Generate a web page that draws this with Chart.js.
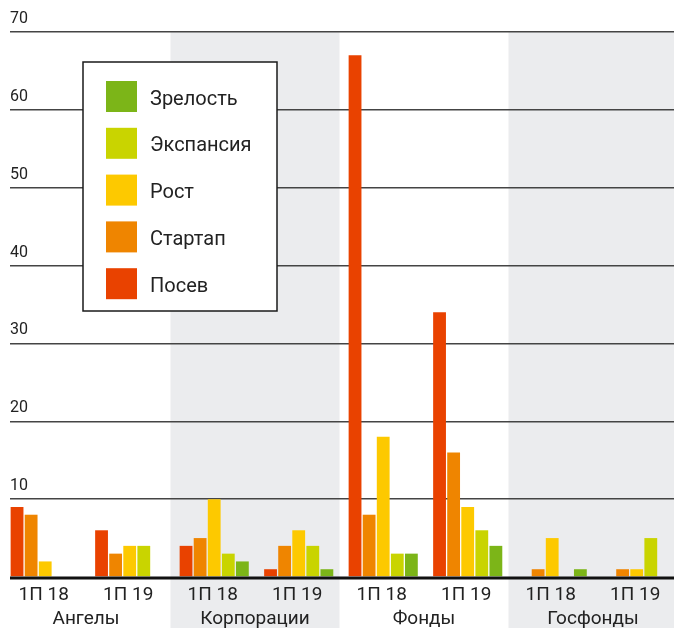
<!DOCTYPE html>
<html lang="ru">
<head>
<meta charset="utf-8">
<title>Сделки по стадиям</title>
<script src="https://cdn.jsdelivr.net/npm/chart.js@4"></script>
<style>
  html, body { margin: 0; padding: 0; background: #fff; overflow: hidden; }
  #wrap { width: 674px; height: 628px; overflow: hidden; }
  canvas { display: block; }
</style>
</head>
<body>
<div id="wrap"><canvas id="chart" width="690" height="628"></canvas></div>
<script>
// Периоды и группы инвесторов
const periods = ['1П 18', '1П 19', '1П 18', '1П 19', '1П 18', '1П 19', '1П 18', '1П 19'];
const groups = ['Ангелы', 'Корпорации', 'Фонды', 'Госфонды'];

// Стадии и их цвета
const stages = ['Посев', 'Стартап', 'Рост', 'Экспансия', 'Зрелость'];
const stageColors = ['#e94200', '#ef8500', '#fdc900', '#c9d400', '#7cb518'];

// Значения по стадиям (в порядке periods)
const posev     = [9, 6, 4, 1, 67, 34, 0, 0];
const startap   = [8, 3, 5, 4, 8, 16, 1, 1];
const rost      = [2, 4, 10, 6, 18, 9, 5, 1];
const expansiya = [0, 4, 3, 4, 3, 6, 0, 5];
const zrelost   = [0, 0, 2, 1, 3, 4, 1, 0];

const yMax = 70;
const yStep = 10;

const FONT = 'Roboto';
const labelShift = -8.5; // подписи центрируются под столбиками, а не по центру категории

const seriesValues = [posev, startap, rost, expansiya, zrelost];

const datasets = stages.map((name, i) => ({
    label: name,
    data: seriesValues[i],
    backgroundColor: stageColors[i],
    borderWidth: 0
}));
// пустой ряд — оставляет промежуток справа от каждой пятёрки столбиков
datasets.push({ label: '', data: periods.map(() => null), backgroundColor: 'transparent' });

// Серые полосы под нечётными группами
const groupBands = {
    id: 'groupBands',
    beforeDraw(chart) {
        const { ctx, chartArea, scales: { x } } = chart;
        const w = x.getPixelForValue(1) - x.getPixelForValue(0);
        ctx.save();
        ctx.fillStyle = '#ebecee';
        groups.forEach((g, i) => {
            if (i % 2 === 0) return;
            const left = x.getPixelForValue(i * 2) - w / 2 + labelShift;
            ctx.fillRect(left, chartArea.top, w * 2, chart.height - chartArea.top);
        });
        ctx.restore();
    }
};

// Жирная линия нуля поверх столбиков
const baseLine = {
    id: 'baseLine',
    afterDatasetsDraw(chart) {
        const { ctx, chartArea, scales: { y } } = chart;
        const y0 = y.getPixelForValue(0);
        ctx.save();
        ctx.fillStyle = '#111';
        ctx.fillRect(chartArea.left, y0 - 0.5, chart.width - chartArea.left, 3);
        ctx.restore();
    }
};

// Легенда в рамке, стадии сверху вниз от Зрелости к Посеву
const legendBox = {
    id: 'legendBox',
    afterDraw(chart) {
        const ctx = chart.ctx;
        ctx.save();
        ctx.fillStyle = '#fff';
        ctx.fillRect(83, 62, 194, 249);
        ctx.strokeStyle = '#1a1a1a';
        ctx.lineWidth = 1.5;
        ctx.strokeRect(83, 62, 194, 249);
        const items = chart.data.datasets.filter(d => d.label).slice().reverse();
        ctx.font = '20px ' + FONT;
        ctx.textBaseline = 'middle';
        items.forEach((ds, i) => {
            const top = 81 + i * 46.8;
            ctx.fillStyle = ds.backgroundColor;
            ctx.fillRect(106, top, 31, 31);
            ctx.fillStyle = '#222';
            ctx.fillText(ds.label, 150, top + 18.5);
        });
        ctx.restore();
    }
};

new Chart(document.getElementById('chart'), {
    type: 'bar',
    data: { labels: periods, datasets },
    options: {
        responsive: false,
        animation: false,
        layout: { padding: { top: 32, left: 10, right: 4, bottom: 0 } },
        datasets: {
            bar: { categoryPercentage: 1, barPercentage: 0.91 }
        },
        plugins: {
            legend: { display: false },
            tooltip: { enabled: false }
        },
        scales: {
            x: {
                position: 'bottom',
                afterFit: s => { s.height = 28; },
                grid: { display: false, drawTicks: false },
                border: { display: false },
                ticks: {
                    autoSkip: false,
                    maxRotation: 0,
                    padding: 8,
                    labelOffset: labelShift,
                    color: '#222',
                    font: { family: FONT, size: 19, lineHeight: 1.1 }
                }
            },
            x2: {
                type: 'category',
                labels: groups,
                position: 'bottom',
                offset: true,
                afterFit: s => { s.height = 23; },
                grid: { display: false, drawTicks: false },
                border: { display: false },
                ticks: {
                    autoSkip: false,
                    maxRotation: 0,
                    padding: 4,
                    labelOffset: labelShift,
                    color: '#222',
                    font: { family: FONT, size: 19, lineHeight: 1.1 }
                }
            },
            y: {
                min: 0,
                max: yMax,
                border: { display: false },
                grid: {
                    drawTicks: false,
                    lineWidth: 1.4,
                    color: ctx => (ctx.tick && ctx.tick.value === 0 ? 'transparent' : '#444')
                },
                ticks: {
                    stepSize: yStep,
                    mirror: true,
                    padding: 0,
                    labelOffset: -13,
                    color: '#222',
                    font: { family: FONT, size: 16 },
                    callback: v => (v === 0 ? '' : v)
                }
            }
        }
    },
    plugins: [groupBands, baseLine, legendBox]
});
</script>
</body>
</html>
